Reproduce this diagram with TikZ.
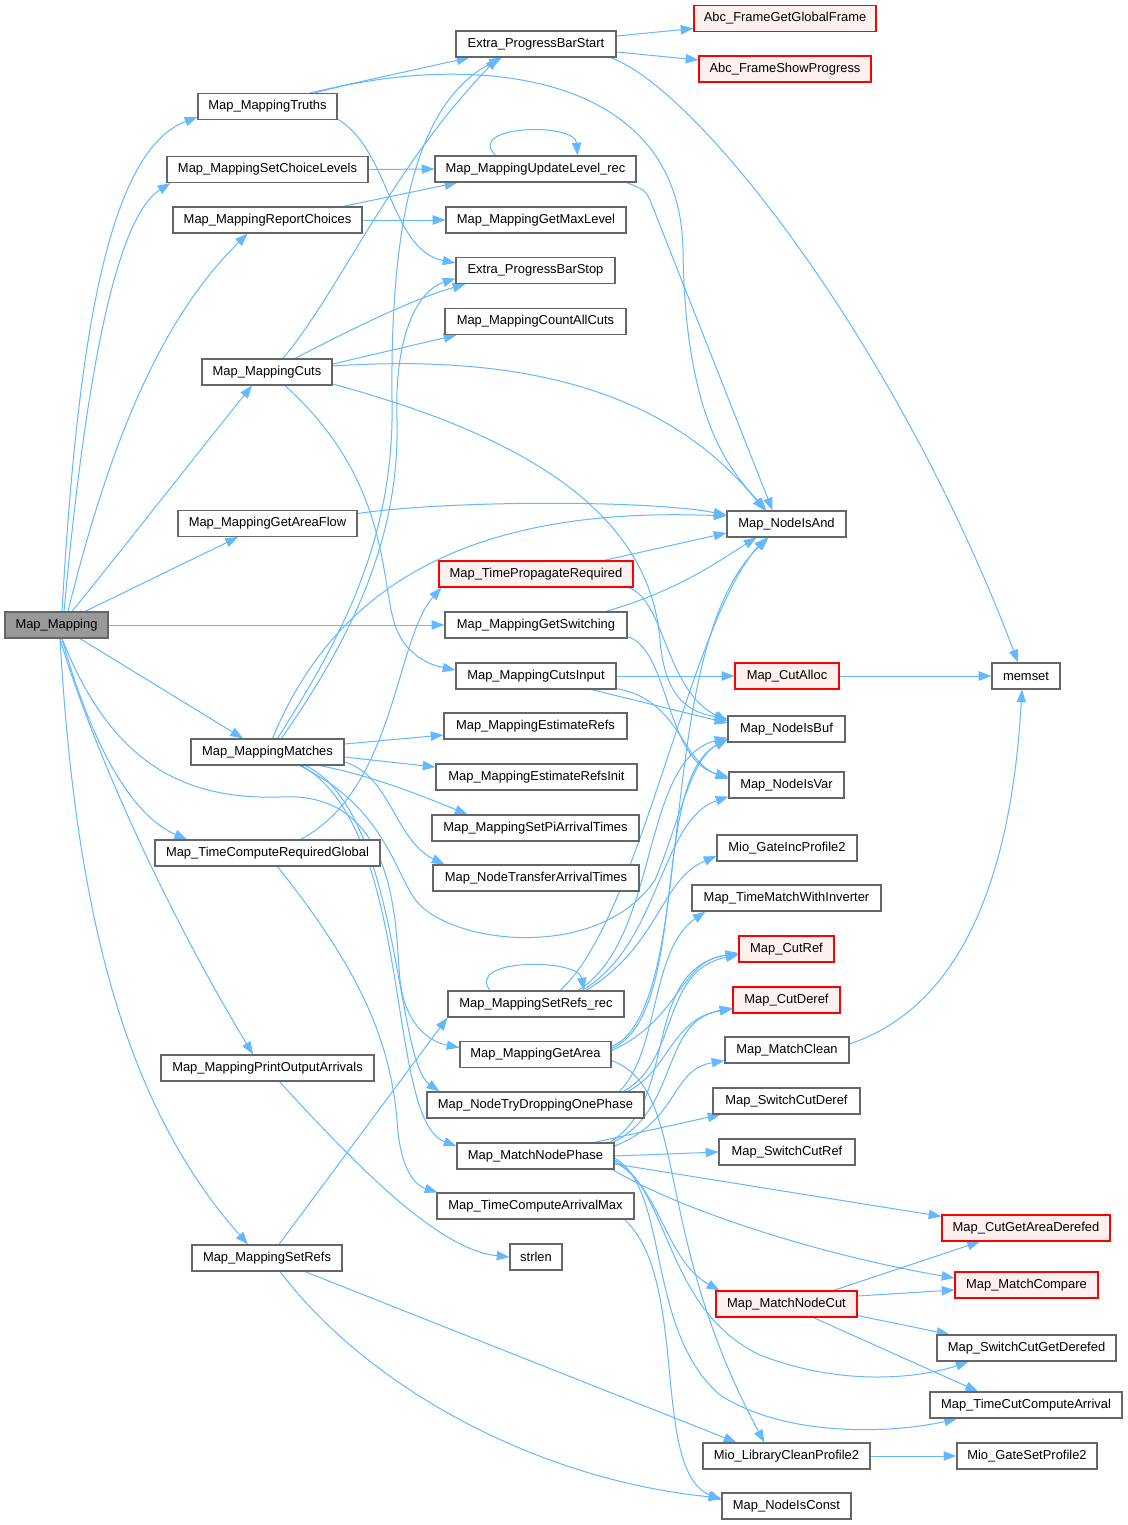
\documentclass[tikz,border=0pt]{standalone}
\usepackage{fontspec}
\setmainfont{Liberation Sans}
\usetikzlibrary{arrows.meta,calc}
\definecolor{edgec}{HTML}{63B8FF}
\definecolor{nodeb}{HTML}{666666}
\definecolor{redb}{HTML}{FF0000}
\definecolor{redf}{HTML}{FFF0F0}
\definecolor{grayf}{HTML}{999999}
\pgfdeclarelayer{bg}
\pgfsetlayers{bg,main}
\tikzset{
 fn/.style={draw=nodeb, line width=0.9pt, fill=white, minimum height=19.5pt, inner sep=0pt,
   font=\fontsize{9.7}{11}\selectfont, minimum width=#1*0.75pt},
 redfn/.style={fn=#1, draw=redb, fill=redf},
 mainfn/.style={fn=#1, fill=grayf},
 edge/.style={draw=edgec, line width=0.75pt, -{Triangle[length=9.5pt,width=7pt]}}
}
\begin{document}
\begin{tikzpicture}[x=0.75pt,y=-0.75pt]
\useasboundingbox (0,0) rectangle (1128,1525);

% left column
\node[mainfn=103] (MapM) at (56.5,625) {Map\_Mapping};
\node[fn=139] (MT) at (267.5,106.5) {Map\_MappingTruths};
\node[fn=201] (MSCL) at (267.5,169.5) {Map\_MappingSetChoiceLevels};
\node[fn=189] (MRC) at (267.5,220) {Map\_MappingReportChoices};
\node[fn=130] (MC) at (267,372) {Map\_MappingCuts};
\node[fn=179] (MGAF) at (267.5,523.5) {Map\_MappingGetAreaFlow};
\node[fn=153] (MMt) at (267.5,752) {Map\_MappingMatches};
\node[fn=225] (TCRG) at (267.5,853) {Map\_TimeComputeRequiredGlobal};
\node[fn=213] (MPOA) at (267.5,1068) {Map\_MappingPrintOutputArrivals};
\node[fn=150] (MSR) at (267,1258) {Map\_MappingSetRefs};

% middle column
\node[fn=160] (PBS) at (536,44) {Extra\_ProgressBarStart};
\node[fn=201] (UL) at (535.5,169) {Map\_MappingUpdateLevel\_rec};
\node[fn=180] (GML) at (536,220) {Map\_MappingGetMaxLevel};
\node[fn=159] (PBStop) at (535.5,270.5) {Extra\_ProgressBarStop};
\node[fn=181] (CAC) at (535.5,321.5) {Map\_MappingCountAllCuts};
\node[redfn=194] (TPR) at (536,574) {Map\_TimePropagateRequired};
\node[fn=182] (GS) at (536,625) {Map\_MappingGetSwitching};
\node[fn=160] (CI) at (536,676) {Map\_MappingCutsInput};
\node[fn=183] (ER) at (535.5,726) {Map\_MappingEstimateRefs};
\node[fn=201] (ERI) at (536.5,777) {Map\_MappingEstimateRefsInit};
\node[fn=207] (SPAT) at (535.5,828) {Map\_MappingSetPiArrivalTimes};
\node[fn=206] (NTAT) at (536,878) {Map\_NodeTransferArrivalTimes};
\node[fn=176] (SRR) at (536,1004) {Map\_MappingSetRefs\_rec};
\node[fn=151] (GA) at (535.5,1054.5) {Map\_MappingGetArea};
\node[fn=217] (NTD) at (535.5,1105) {Map\_NodeTryDroppingOnePhase};
\node[fn=157] (MNP) at (535.5,1156) {Map\_MatchNodePhase};
\node[fn=197] (TCAM) at (535.5,1206) {Map\_TimeComputeArrivalMax};
\node[fn=52] (STRL) at (536,1257) {strlen};

% right column
\node[redfn=182] (FGGF) at (785,18.5) {Abc\_FrameGetGlobalFrame};
\node[redfn=172] (FSP) at (785,69) {Abc\_FrameShowProgress};
\node[fn=119] (NIA) at (786.5,524) {Map\_NodeIsAnd};
\node[redfn=104] (CA) at (787,676) {Map\_CutAlloc};
\node[fn=117] (NIB) at (786.5,729) {Map\_NodeIsBuf};
\node[fn=115] (NIV) at (786.5,785) {Map\_NodeIsVar};
\node[fn=140] (GIP) at (787,848) {Mio\_GateIncProfile2};
\node[fn=189] (TMWI) at (786.5,898) {Map\_TimeMatchWithInverter};
\node[redfn=95] (CR) at (786.5,949) {Map\_CutRef};
\node[redfn=107] (CD) at (786.5,1000) {Map\_CutDeref};
\node[fn=124] (MCl) at (787,1050) {Map\_MatchClean};
\node[fn=147] (SCD) at (786.5,1101) {Map\_SwitchCutDeref};
\node[fn=136] (SCR) at (787,1152) {Map\_SwitchCutRef};
\node[redfn=141] (MNC) at (786.5,1304) {Map\_MatchNodeCut};
\node[fn=167] (LCP) at (786.5,1456) {Mio\_LibraryCleanProfile2};
\node[fn=129] (NIC) at (786.5,1506) {Map\_NodeIsConst};

% far right column
\node[fn=68] (MEM) at (1026,676) {memset};
\node[redfn=168] (CGAD) at (1026,1228) {Map\_CutGetAreaDerefed};
\node[redfn=143] (MCmp) at (1026.5,1285) {Map\_MatchCompare};
\node[fn=179] (SCGD) at (1026.5,1348) {Map\_SwitchCutGetDerefed};
\node[fn=192] (TCCA) at (1026,1405) {Map\_TimeCutComputeArrival};
\node[fn=140] (GSP) at (1027,1456) {Mio\_GateSetProfile2};

\begin{pgfonlayer}{bg}
\fill[white] (0,0) rectangle (1128,1525);
% Map_Mapping
\draw[edge] ($(MapM.north)+(5.5,0)$) .. controls (78,330) and (110,150) .. ($(MT.south west)+(0,-3)$);
\draw[edge] ($(MapM.north)+(7.5,0)$) .. controls (88,350) and (120,215) .. ($(MSCL.south west)+(4,0)$);
\draw[edge] ($(MapM.north)+(11.5,0)$) .. controls (115,420) and (170,310) .. ($(MRC.south)+(-20,0)$);
\draw[edge] ($(MapM.north)+(15.5,0)$) .. controls (130,540) and (200,450) .. ($(MC.south)+(-15,0)$);
\draw[edge] ($(MapM.north)+(28.5,0)$) -- ($(MGAF.south)+(-29.5,0)$);
\draw[edge] (MapM.east) -- (GS.west);
\draw[edge] ($(MapM.south)+(23.5,0)$) -- ($(MMt.north)+(-24.5,0)$);
\draw[edge] ($(MapM.south)+(5.5,0)$) .. controls (90,740) and (130,815) .. ($(TCRG.north)+(-80.5,0)$);
\draw[edge] ($(MapM.south)+(3.5,0)$) .. controls (90,740) and (160,900) .. ($(MPOA.north)+(-14.5,0)$);
\draw[edge] ($(MapM.south)+(3.5,0)$) .. controls (75,900) and (120,1100) .. ($(MSR.north)+(-19,0)$);
\draw[edge] ($(MapM.south)+(5.5,0)$) .. controls (110,760) and (180,800) .. (280,797) .. controls (400,790) and (395,930) .. (400,980) .. controls (405,1025) and (430,1042) .. ($(GA.west)+(0,-7)$);

% Truths
\draw[edge] ($(MT.north)+(42.5,0)$) -- ($(PBS.south west)+(14,0)$);
\draw[edge] ($(MT.north)+(47.5,0)$) .. controls (450,55) and (680,60) .. (683,250) .. controls (685,420) and (730,470) .. ($(NIA.north)+(-20,0)$);
\draw[edge] ($(MT.south east)+(0,-1)$) .. controls (390,150) and (390,250) .. ($(PBStop.west)+(0,-7.5)$);

% choices
\draw[edge] (MSCL.east) -- (UL.west);
\draw[edge] ($(MRC.north)+(75.5,0)$) -- ($(UL.south west)+(23,0)$);
\draw[edge] (MRC.east) -- (GML.west);
\draw[edge] ($(UL.north)+(-40,0)$) .. controls (465,125) and (575,122) .. ($(UL.north)+(42,0)$);
\draw[edge] ($(UL.south east)+(-10,0)$) .. controls (645,190) .. (650,200) -- ($(NIA.north)+(-14,0)$);

% progress bar
\draw[edge] ($(PBS.east)+(0,-8)$) -- ($(FGGF.west)+(0,10)$);
\draw[edge] ($(PBS.east)+(0,8)$) -- ($(FSP.west)+(0,-9)$);
\draw[edge] ($(PBS.south east)+(-6,0)$) .. controls (700,90) and (900,350) .. ($(MEM.north)+(-8,0)$);

% cuts
\draw[edge] ($(MC.north)+(16,0)$) .. controls (340,290) and (390,170) .. ($(PBS.south)+(-38,0)$);
\draw[edge] ($(MC.north)+(28,0)$) .. controls (350,330) and (410,300) .. ($(PBStop.south west)+(10,0)$);
\draw[edge] ($(MC.east)+(0,-8)$) -- ($(CAC.south west)+(12,0)$);
\draw[edge] ($(MC.east)+(0,-6)$) .. controls (500,355) and (660,380) .. ($(NIA.north)+(-22,0)$);
\draw[edge] ($(MC.east)+(0,12)$) .. controls (540,440) and (650,520) .. (660,640) .. controls (665,700) and (690,712) .. ($(NIB.west)+(0,-10)$);
\draw[edge] ($(MC.south)+(18,0)$) .. controls (390,480) and (380,580) .. (395,625) .. controls (405,655) and (430,665) .. ($(CI.west)+(0,-6)$);

\draw[edge] ($(MGAF.east)+(0,-10)$) .. controls (450,500) and (650,500) .. ($(NIA.west)+(0,-9)$);

\draw[edge] ($(TPR.north)+(68,0)$) -- ($(NIA.west)+(0,9)$);
\draw[edge] ($(TPR.south east)+(-5,0)$) .. controls (665,600) and (665,690) .. ($(NIB.west)+(0,-8)$);

\draw[edge] ($(GS.north)+(70,0)$) .. controls (680,590) and (720,560) .. ($(NIA.south)+(-30,0)$);
\draw[edge] ($(GS.south east)+(0,-2)$) .. controls (670,650) and (665,760) .. ($(NIV.west)+(0,-8)$);

\draw[edge] (CI.east) -- (CA.west);
\draw[edge] ($(CI.south east)+(-25,0)$) -- ($(NIB.west)+(0,-6)$);
\draw[edge] ($(CI.south east)+(0,-1)$) .. controls (680,700) and (680,760) .. ($(NIV.west)+(0,-6)$);
\draw[edge] (CA.east) -- (MEM.west);

% matches
\draw[edge] ($(MMt.east)+(0,-8)$) -- ($(ER.west)+(0,9)$);
\draw[edge] ($(MMt.east)+(0,5)$) -- ($(ERI.west)+(0,-10)$);
\draw[edge] ($(MMt.south east)+(-25,0)$) .. controls (370,775) and (420,795) .. ($(SPAT.north)+(-68,0)$);
\draw[edge] ($(MMt.east)+(0,10)$) .. controls (390,775) and (395,840) .. ($(NTAT.north west)+(12,0)$);
\draw[edge] ($(MMt.north)+(10,0)$) .. controls (340,640) and (395,540) .. (392,400) .. controls (390,210) and (420,100) .. ($(PBS.south)+(-34,0)$);
\draw[edge] ($(MMt.north)+(14,0)$) .. controls (350,640) and (400,540) .. (397,420) .. controls (394,330) and (420,290) .. ($(PBStop.west)+(0,8)$);
\draw[edge] ($(MMt.north)+(5,0)$) .. controls (330,600) and (450,505) .. ($(NIA.west)+(0,-8)$);
\draw[edge] ($(MMt.south)+(32,0)$) .. controls (390,810) and (395,880) .. (420,905) .. controls (460,945) and (600,960) .. (655,880) .. controls (680,820) and (690,760) .. ($(NIB.west)+(0,10)$);
\draw[edge] ($(MMt.south)+(38,0)$) .. controls (400,810) and (395,1060) .. ($(NTD.north west)+(13,0)$);
\draw[edge] ($(MMt.south)+(34,0)$) .. controls (415,830) and (385,1120) .. ($(MNP.west)+(0,-10)$);

% required time
\draw[edge] ($(TCRG.north)+(33,0)$) .. controls (395,790) and (395,640) .. ($(TPR.south west)+(3,0)$);
\draw[edge] ($(TCRG.south)+(10,0)$) .. controls (360,970) and (390,1040) .. (397,1120) .. controls (400,1170) and (415,1185) .. ($(TCAM.north west)+(1,0)$);

\draw[edge] ($(MPOA.south)+(12,0)$) .. controls (360,1170) and (440,1250) .. (STRL.west);

% set refs
\draw[edge] ($(MSR.north)+(12,0)$) -- (SRR.south west);
\draw[edge] ($(MSR.south)+(38,0)$) -- ($(LCP.north west)+(34,0)$);
\draw[edge] ($(MSR.south)+(13,0)$) .. controls (370,1390) and (540,1480) .. ($(NIC.west)+(0,-8)$);

\draw[edge] ($(SRR.north)+(-46,0)$) .. controls (465,958) and (578,958) .. ($(SRR.north)+(48,0)$);
\draw[edge] ($(SRR.north)+(24,0)$) .. controls (640,920) and (690,620) .. ($(NIA.south)+(-20,0)$);
\draw[edge] ($(SRR.north)+(42,0)$) .. controls (660,940) and (640,760) .. ($(NIB.south west)+(0,-5)$);
\draw[edge] ($(SRR.north)+(46,0)$) .. controls (660,945) and (660,820) .. ($(NIV.south west)+(0,-2)$);
\draw[edge] ($(SRR.north)+(50,0)$) .. controls (660,945) and (660,880) .. ($(GIP.west)+(0,8)$);

% get area
\draw[edge] ($(GA.east)+(0,-8)$) .. controls (700,1010) and (650,650) .. ($(NIA.south)+(-18,0)$);
\draw[edge] ($(GA.east)+(0,-6)$) .. controls (690,1015) and (650,780) .. ($(NIB.south west)+(0,-3)$);
\draw[edge] ($(GA.east)+(0,-4)$) .. controls (680,1020) and (680,960) .. ($(CR.west)+(0,5)$);
\draw[edge] ($(GA.east)+(0,6)$) .. controls (690,1090) and (650,1230) .. ($(LCP.north west)+(62,0)$);

\draw[edge] ($(TCAM.south east)+(-10,0)$) .. controls (690,1280) and (650,1470) .. ($(NIC.west)+(0,-6)$);

% try dropping
\draw[edge] ($(NTD.north)+(84,0)$) .. controls (660,1050) and (650,950) .. ($(TMWI.south west)+(14,0)$);
\draw[edge] ($(NTD.north)+(88,0)$) .. controls (680,1060) and (660,970) .. ($(CR.west)+(0,6)$);
\draw[edge] ($(NTD.north)+(92,0)$) .. controls (670,1070) and (670,1020) .. ($(CD.west)+(0,8)$);

% match node phase
\draw[edge] ($(MNP.north east)+(-5,0)$) .. controls (680,1100) and (640,970) .. ($(CR.west)+(0,4)$);
\draw[edge] ($(MNP.north east)+(-2,0)$) .. controls (680,1110) and (660,1020) .. ($(CD.west)+(0,9)$);
\draw[edge] ($(MNP.east)+(0,-10)$) .. controls (680,1120) and (670,1070) .. ($(MCl.south west)+(0,-3)$);
\draw[edge] ($(MNP.north east)+(-20,0)$) -- ($(SCD.south west)+(8,0)$);
\draw[edge] (MNP.east) -- (SCR.west);
\draw[edge] ($(MNP.east)+(0,8)$) -- ($(CGAD.north west)+(0,2)$);
\draw[edge] ($(MNP.south east)+(-2,0)$) .. controls (680,1210) and (820,1255) .. ($(MCmp.west)+(0,-7)$);
\draw[edge] ($(MNP.east)+(0,6)$) .. controls (660,1185) and (665,1260) .. ($(MNC.north west)+(4,0)$);
\draw[edge] ($(MNP.east)+(0,4)$) .. controls (670,1190) and (665,1310) .. (760,1355) .. controls (850,1390) and (930,1375) .. ($(SCGD.south)+(-58,0)$);
\draw[edge] ($(MNP.east)+(0,2)$) .. controls (670,1190) and (645,1330) .. (720,1395) .. controls (790,1440) and (900,1432) .. ($(TCCA.south)+(-69,0)$);

% match node cut
\draw[edge] ($(MNC.north)+(47,0)$) -- ($(CGAD.south)+(-46,0)$);
\draw[edge] ($(MNC.east)+(0,-8)$) -- ($(MCmp.west)+(0,5)$);
\draw[edge] ($(MNC.south east)+(0,-2)$) -- ($(SCGD.north west)+(13,0)$);
\draw[edge] ($(MNC.south)+(27,0)$) -- ($(TCCA.north)+(-48,0)$);

\draw[edge] ($(MCl.east)+(0,-6)$) .. controls (950,1010) and (1010,900) .. ($(MEM.south)+(-4,0)$);
\draw[edge] (LCP.east) -- (GSP.west);
\end{pgfonlayer}
\end{tikzpicture}
\end{document}
